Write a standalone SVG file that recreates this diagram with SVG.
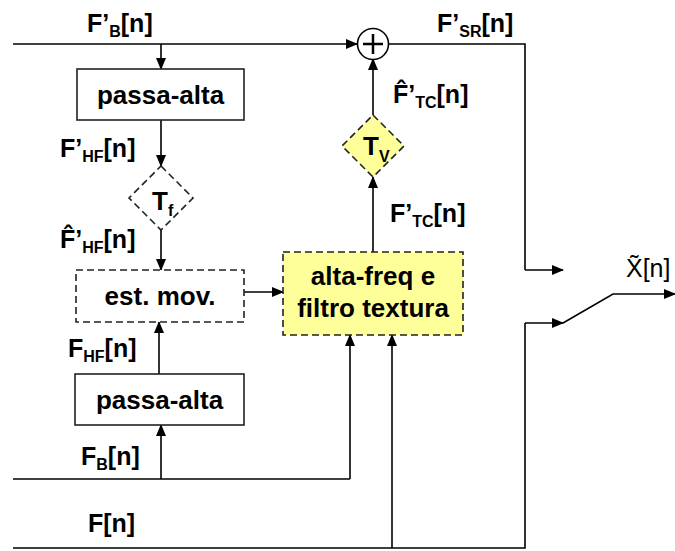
<svg xmlns="http://www.w3.org/2000/svg" width="675" height="551" viewBox="0 0 675 551">
<defs>
<marker id="ah" markerWidth="12" markerHeight="10" refX="11" refY="5" orient="auto" markerUnits="userSpaceOnUse">
<path d="M0,0 L12,5 L0,10 z" fill="#000"/>
</marker>
<style>
.t{font-family:"Liberation Sans",Arial,sans-serif;font-weight:bold;font-size:26px;fill:#000}
.lbl{font-family:"Liberation Sans",Arial,sans-serif;font-weight:bold;font-size:25px;fill:#000}
.sub{font-size:16px}
.w{fill:none;stroke:#000;stroke-width:1.6}
.a{marker-end:url(#ah)}
.box{fill:#fff;stroke:#222;stroke-width:1.6}
.dash{stroke-dasharray:7,4}
.yel{fill:#ffff99}
</style>
</defs>
<rect width="675" height="551" fill="#fff"/>
<g id="connectors">
<path class="w a" d="M13,44 H357"/>
<path class="w a" d="M161,44 V69"/>
<path class="w a" d="M161,120 V166"/>
<path class="w a" d="M161,230 V270"/>
<path class="w a" d="M244,292 H283"/>
<path class="w a" d="M159,374 V322"/>
<path class="w" d="M13,479 H350"/>
<path class="w a" d="M350,479 V335"/>
<path class="w a" d="M161,479 V425"/>
<path class="w" d="M13,548 H525 V323"/>
<path class="w a" d="M525,323 H563"/>
<path class="w a" d="M392,548 V335"/>
<path class="w a" d="M373,252 V177"/>
<path class="w a" d="M373,115 V59"/>
<path class="w" d="M389,44 H525 V270"/>
<path class="w a" d="M525,270 H563"/>
<path class="w a" d="M563,323 L613,294 H675"/>
</g>
<g id="sum">
<circle cx="373" cy="44" r="15.5" fill="#fff" stroke="#000" stroke-width="1.6"/>
<path d="M373,34 V54 M363,44 H383" stroke="#000" stroke-width="2.5"/>
</g>
<g id="hp1">
<rect class="box" x="77" y="69" width="167" height="51"/>
<text class="t" x="160.5" y="104" text-anchor="middle">passa-alta</text>
</g>
<g id="tf">
<path class="box dash" d="M161,166 L193,198 L161,230 L129,198 z"/>
<text class="t" x="152" y="210">T<tspan class="sub" dy="6">f</tspan></text>
</g>
<g id="estmov">
<rect class="box dash" x="76" y="270" width="168" height="52"/>
<text class="t" x="160" y="305" text-anchor="middle">est. mov.</text>
</g>
<g id="hp2">
<rect class="box" x="75" y="374" width="169" height="51"/>
<text class="t" x="159.5" y="409" text-anchor="middle">passa-alta</text>
</g>
<g id="texture">
<rect class="box dash yel" x="283" y="252" width="180" height="83"/>
<text class="t" x="373" y="285" text-anchor="middle">alta-freq e</text>
<text class="t" x="373" y="317" text-anchor="middle">filtro textura</text>
</g>
<g id="tv">
<path class="box dash yel" d="M373,115 L404,146 L373,177 L342,146 z"/>
<text class="t" x="363" y="155">T<tspan class="sub" dy="7">V</tspan></text>
</g>
<g id="labels">
<text class="lbl" x="87" y="32">F’<tspan class="sub" dy="5">B</tspan><tspan dy="-5">[n]</tspan></text>
<text class="lbl" x="437" y="32">F’<tspan class="sub" dy="5">SR</tspan><tspan dy="-5">[n]</tspan></text>
<text class="lbl" x="60" y="157">F’<tspan class="sub" dy="5">HF</tspan><tspan dy="-5">[n]</tspan></text>
<text class="lbl" x="60" y="248">F̂’<tspan class="sub" dy="5">HF</tspan><tspan dy="-5">[n]</tspan></text>
<text class="lbl" x="393" y="103">F̂’<tspan class="sub" dy="5">TC</tspan><tspan dy="-5">[n]</tspan></text>
<text class="lbl" x="390" y="222">F’<tspan class="sub" dy="5">TC</tspan><tspan dy="-5">[n]</tspan></text>
<text class="lbl" x="68" y="357">F<tspan class="sub" dy="5">HF</tspan><tspan dy="-5">[n]</tspan></text>
<text class="lbl" x="81" y="465">F<tspan class="sub" dy="5">B</tspan><tspan dy="-5">[n]</tspan></text>
<text class="lbl" x="88" y="532">F[n]</text>
<text x="626" y="277" font-family="Liberation Sans, Arial, sans-serif" font-size="25" fill="#000">X̃[n]</text>
</g>
</svg>
